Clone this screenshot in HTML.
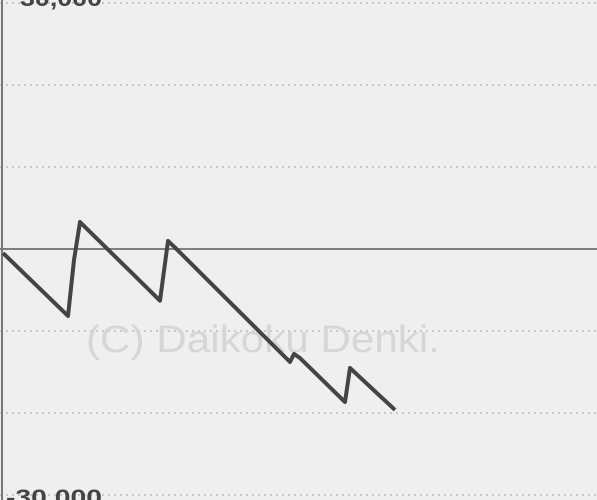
<!DOCTYPE html>
<html><head><meta charset="utf-8"><style>
body{margin:0;background:#efefef;width:597px;height:500px;overflow:hidden}
svg{display:block}
</style></head><body>
<svg id="chart" width="597" height="500" viewBox="0 0 597 500" xmlns="http://www.w3.org/2000/svg">
<rect x="0" y="0" width="597" height="500" fill="#efefef"/>
<g id="grid"></g>
<text x="86" y="352" font-family="Liberation Sans, sans-serif" font-size="38" fill="#d6d6d6" textLength="354" lengthAdjust="spacingAndGlyphs">(C) Daikoku Denki.</text>
<line x1="2" y1="0" x2="2" y2="500" stroke="#777" stroke-width="2"/>
<g id="series"></g>
<text x="20" y="6" font-family="Liberation Sans, sans-serif" font-size="22" font-weight="bold" fill="#444" textLength="82" lengthAdjust="spacingAndGlyphs">30,000</text>
<text x="6" y="505" font-family="Liberation Sans, sans-serif" font-size="22" font-weight="bold" fill="#444" textLength="96" lengthAdjust="spacingAndGlyphs">-30,000</text>
</svg>
<script>
const gridValues=[30000,20000,10000,0,-10000,-20000,-30000];
const games=[0,65,71,77,157,165,171,287,291,297,342,347,392];
const diff=[-490,-8170,-1340,3290,-6300,980,300,-13780,-12800,-13300,-18660,-14510,-19630];
const yMaxV=30000,yMinV=-30000,plotTop=3,plotBottom=495;
function yScale(v){return plotTop+(yMaxV-v)/(yMaxV-yMinV)*(plotBottom-plotTop);}
function xScale(g){return 3+g;}
const NS="http://www.w3.org/2000/svg";
const grid=document.getElementById('grid');
gridValues.forEach(v=>{
  const l=document.createElementNS(NS,'line');
  l.setAttribute('x1',0);l.setAttribute('x2',597);
  l.setAttribute('y1',yScale(v));l.setAttribute('y2',yScale(v));
  if(v===0){l.setAttribute('stroke','#808080');l.setAttribute('stroke-width','2');}
  else{l.setAttribute('stroke','#c8c8c8');l.setAttribute('stroke-width','2');l.setAttribute('stroke-dasharray','2 4');}
  
  
  grid.appendChild(l);
});
const p=document.createElementNS(NS,'polyline');
p.setAttribute('points',games.map((g,i)=>xScale(g)+','+yScale(diff[i])).join(' '));
p.setAttribute('fill','none');p.setAttribute('stroke','#444');p.setAttribute('stroke-width','4');
p.setAttribute('stroke-linejoin','round');


document.getElementById('series').appendChild(p);
</script>
</body></html>
